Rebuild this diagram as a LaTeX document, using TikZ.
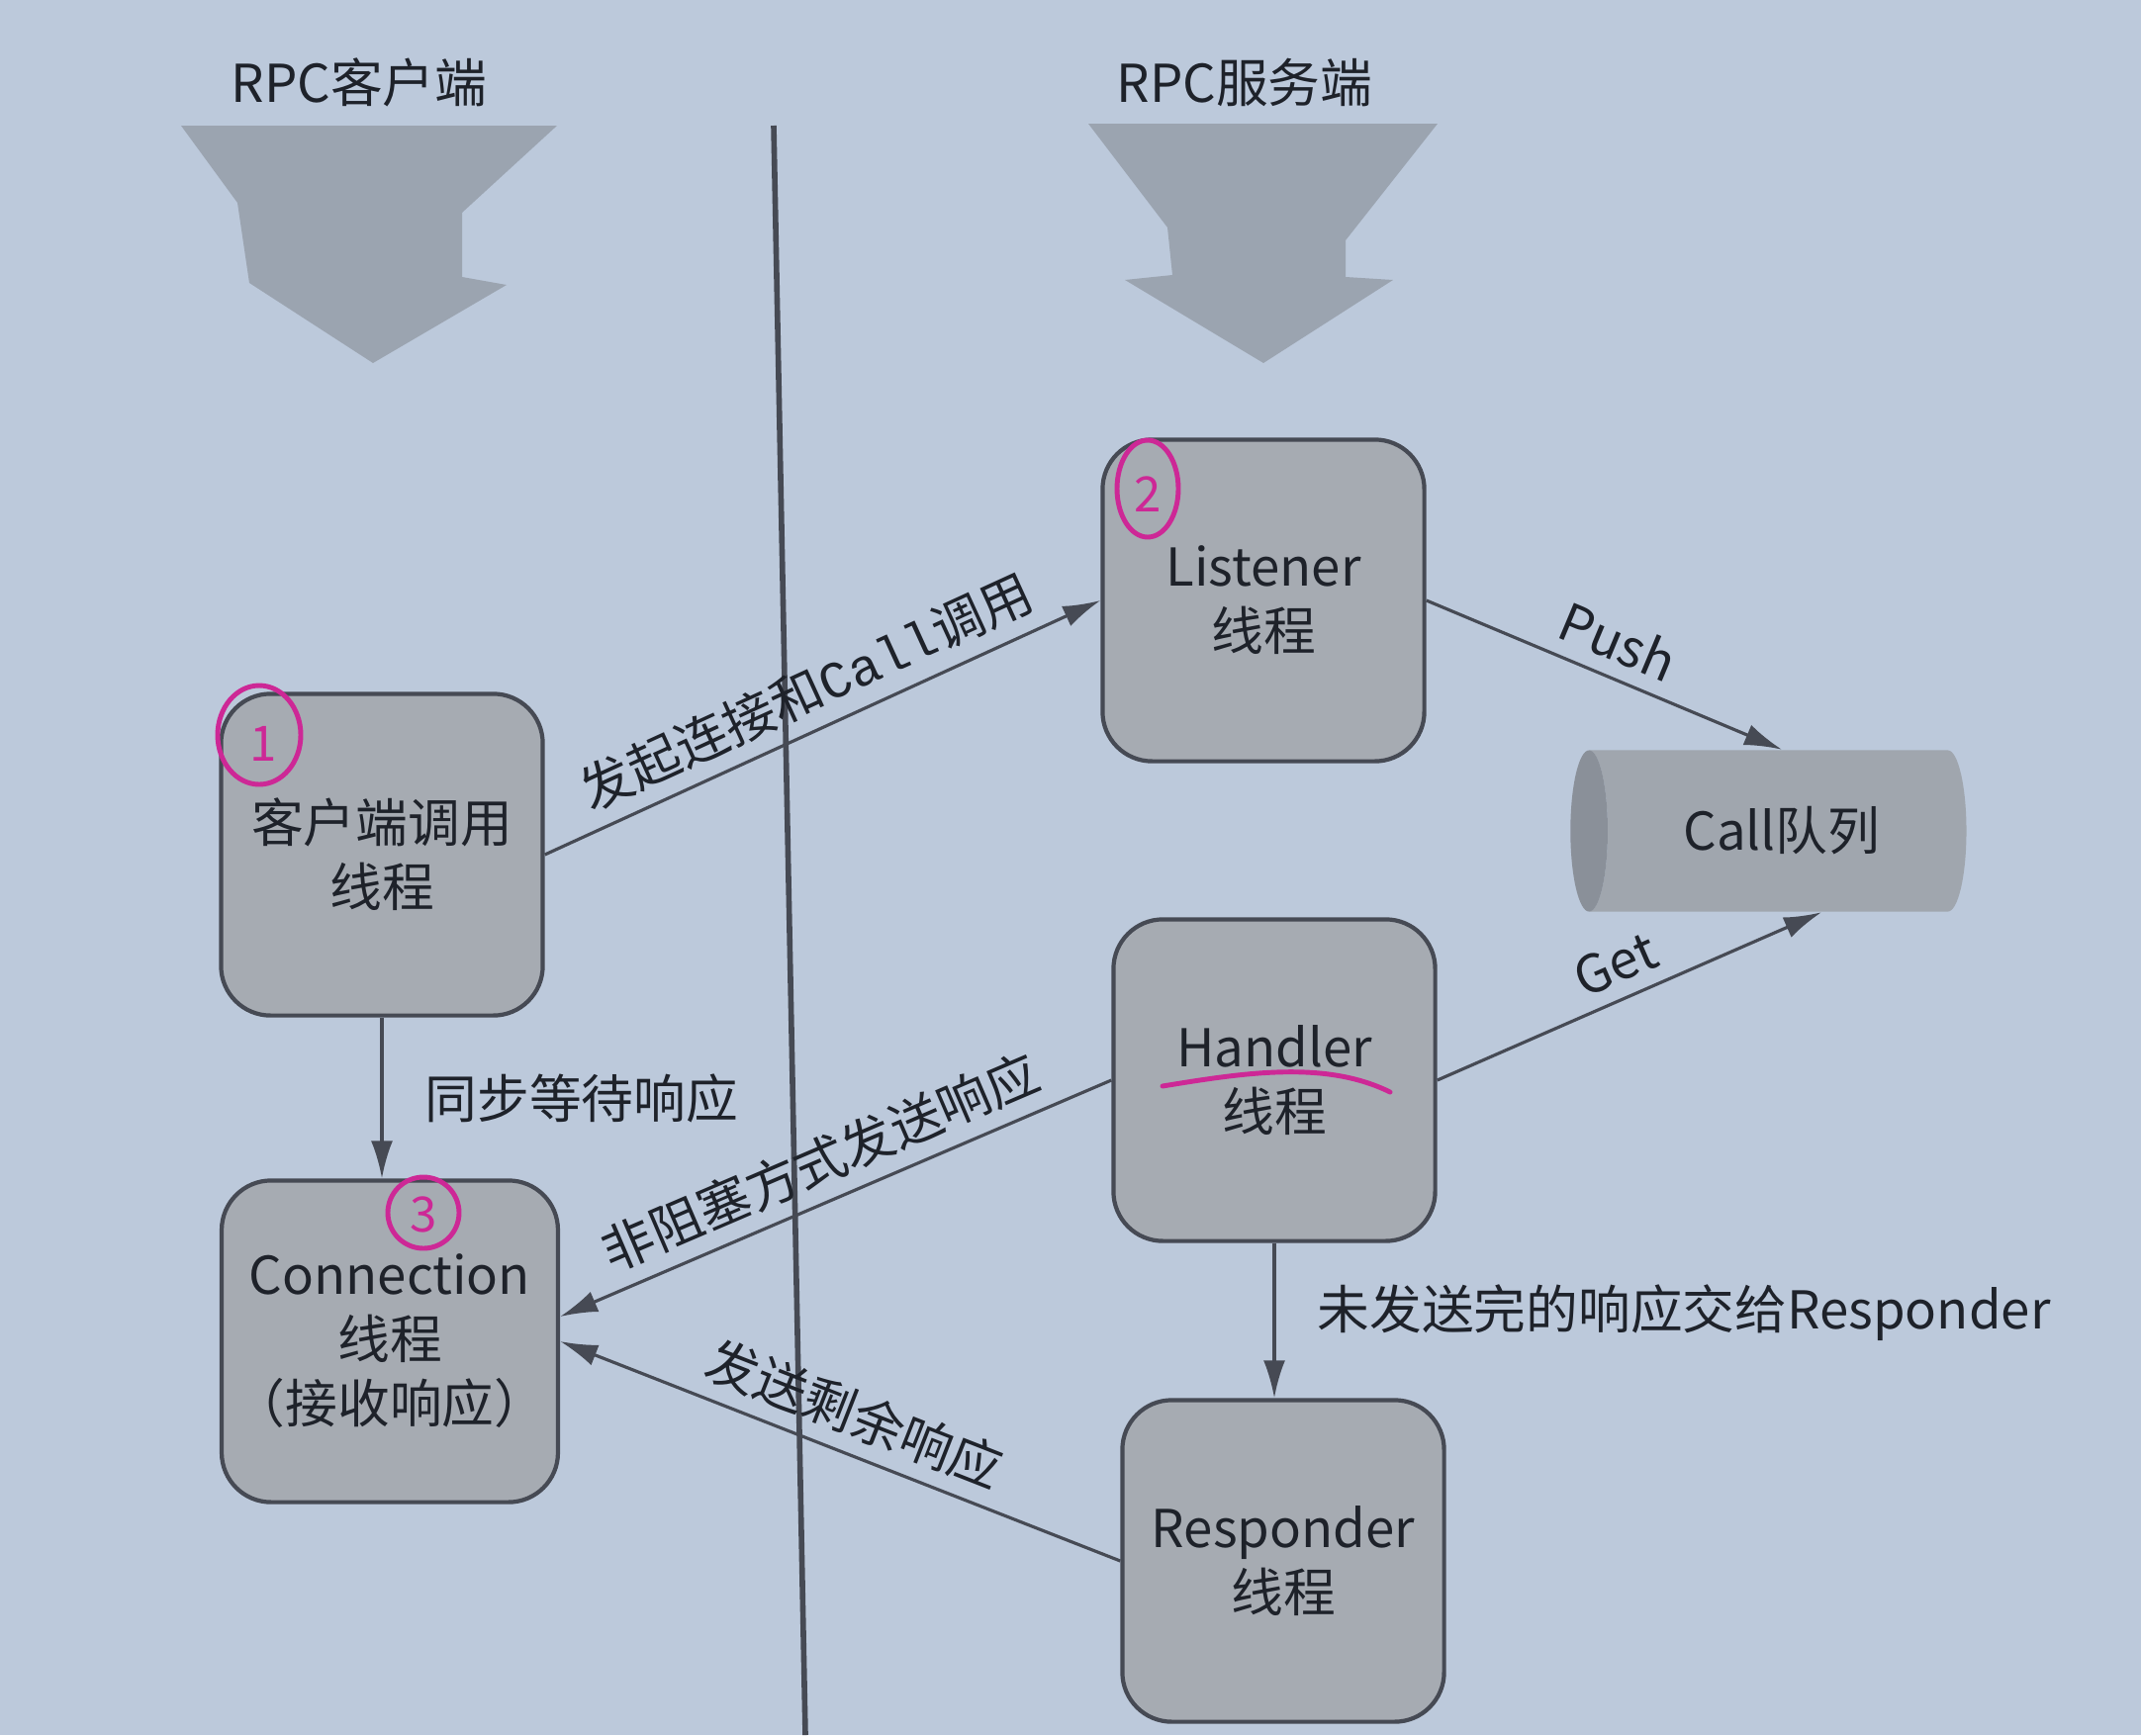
\documentclass[tikz,border=0pt]{standalone}
\usepackage{fontspec}
\setmainfont{Noto Sans CJK SC}
\setmonofont{Liberation Mono}
\usepackage{tikz}
\usetikzlibrary{shapes.geometric,arrows.meta,calc}
\definecolor{paper}{RGB}{188,201,219}
\definecolor{boxgray}{RGB}{166,171,178}
\definecolor{bigarrow}{RGB}{155,164,176}
\definecolor{qbody}{RGB}{160,166,174}
\definecolor{qend}{RGB}{138,144,153}
\definecolor{ink}{RGB}{30,34,42}
\definecolor{linegray}{RGB}{70,74,84}
\definecolor{marker}{RGB}{205,40,150}

\begin{document}
\begin{tikzpicture}[x=0.01cm,y=-0.01cm,
                    box/.style={draw=linegray, line width=1.2pt, fill=boxgray, rounded corners=0.5cm,
                                minimum width=3.25cm, minimum height=3.25cm, align=center, text=ink,
                                font=\fontsize{15}{18.5}\selectfont},
                    lbl/.style={text=ink, font=\fontsize{15}{18.5}\selectfont, inner sep=2pt},
                    flow/.style={draw=linegray, line width=0.9pt, -{Latex[length=0.38cm,width=0.22cm]}},
                    pen/.style={draw=marker, line width=1.4pt, line cap=round},
                    pentext/.style={text=marker, font=\fontsize{14}{14}\selectfont\itshape}]
                        \useasboundingbox (0,0) rectangle (2164,1754);
                        \fill[paper] (0,0) rectangle (2164,1754);

                        \fill[bigarrow] (183,127) -- (563,127) -- (467,215) -- (467,280) -- (512,288)
                                        -- (377,367) -- (252,286) -- (240,205) -- cycle;
                        \fill[bigarrow] (1100,125) -- (1453,125) -- (1360,243) -- (1360,280) -- (1408,283)
                                        -- (1277,367) -- (1137,283) -- (1185,278) -- (1180,230) -- cycle;

                        \node[lbl] (tcli) at (363,83) {RPC客户端};
                        \node[lbl] (tsrv) at (1258,83) {RPC服务端};

                        \draw[linegray, line width=1.6pt] (782,127) -- (814,1754);

                        \foreach \k/\i/\j/\t in {cli/386/864/{客户端调用\\线程}, lis/1277/607/{Listener\\线程},
                                                 han/1288/1092/{Handler\\线程}, con/394/1356/{Connection\\线程\\（接收响应）},
                                                 res/1297/1578/{Responder\\线程}} {
                            \node[box] (\k) at (\i,\j) {\t};
                        }

                        \node[cylinder, shape border rotate=180, aspect=0.6, cylinder uses custom fill,
                              cylinder body fill=qbody, cylinder end fill=qend,
                              minimum width=1.63cm, minimum height=4cm, lbl] (q) at (1801,840) {Call队列};

                        \draw[flow] (cli.east) -- node[lbl, above=2pt, sloped] {发起连接和\texttt{Call}调用} (lis.west);
                        \draw[flow] (lis.east) -- node[lbl, above=2pt, sloped] {Push} (q.north);
                        \draw[flow] (han.east) -- node[lbl, above=2pt, sloped] {Get} ($(q.south)+(40,0)$);
                        \draw[flow] (cli.south) -- node[lbl, right=0.35cm] {同步等待响应} (cli.south |- con.north);
                        \draw[flow] (han.south) -- node[lbl, right=0.35cm, pos=0.45] {未发送完的响应交给Responder} (han.south |- res.north);
                        \draw[flow] (han.west) -- node[lbl, above=2pt, sloped] {非阻塞方式发送响应} ($(con.east)+(0,-25)$);
                        \draw[flow] (res.west) -- node[lbl, above=2pt, sloped] {发送剩余响应} (con.east);

                        \draw[pen] (262,743) ellipse [x radius=42, y radius=50];
                        \node[pentext] (n1) at (266,752) {1};
                        \draw[pen] (1160,494) ellipse [x radius=31, y radius=49];
                        \node[pentext] (n2) at (1160,500) {2};
                        \draw[pen] (428,1226) ellipse [x radius=36, y radius=36];
                        \node[pentext] (n3) at (428,1228) {3};
                        \draw[pen] (1175,1098) .. controls (1260,1084) and (1340,1072) .. (1405,1104);
                    \end{tikzpicture}
\end{document}
